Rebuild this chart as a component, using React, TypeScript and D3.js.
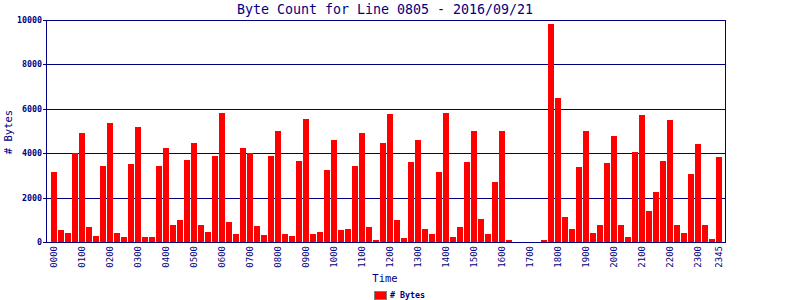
import React from "react";
import * as d3 from "d3";

const times: string[] = [
  "0000","0015","0030","0045","0100","0115","0130","0145",
  "0200","0215","0230","0245","0300","0315","0330","0345",
  "0400","0415","0430","0445","0500","0515","0530","0545",
  "0600","0615","0630","0645","0700","0715","0730","0745",
  "0800","0815","0830","0845","0900","0915","0930","0945",
  "1000","1015","1030","1045","1100","1115","1130","1145",
  "1200","1215","1230","1245","1300","1315","1330","1345",
  "1400","1415","1430","1445","1500","1515","1530","1545",
  "1600","1615","1630","1645","1700","1715","1730","1745",
  "1800","1815","1830","1845","1900","1915","1930","1945",
  "2000","2015","2030","2045","2100","2115","2130","2145",
  "2200","2215","2230","2245","2300","2315","2330","2345",
];

const bytes: number[] = [
  3150, 540, 410, 4000, 4910, 680, 270, 3420,
  5360, 410, 230, 3510, 5180, 230, 230, 3420,
  4230, 770, 990, 3690, 4460, 770, 450, 3870,
  5820, 900, 360, 4230, 3990, 720, 320, 3870,
  5000, 360, 270, 3650, 5540, 360, 450, 3240,
  4600, 540, 590, 3420, 4910, 680, 90, 4460,
  5770, 990, 180, 3600, 4600, 590, 360, 3150,
  5820, 230, 680, 3600, 5000, 1040, 360, 2700,
  5000, 90, 0, 0, 0, 0, 90, 9820,
  6490, 1130, 590, 3380, 5000, 410, 770, 3560,
  4780, 770, 230, 4050, 5720, 1400, 2250, 3650,
  5500, 770, 410, 3060, 4410, 770, 140, 3830,
];

const xTickLabels: string[] = [
  "0000","0100","0200","0300","0400","0500","0600","0700","0800","0900",
  "1000","1100","1200","1300","1400","1500","1600","1700","1800","1900",
  "2000","2100","2200","2300","2345",
];

const yTicks: number[] = [0, 2000, 4000, 6000, 8000, 10000];

const NAVY = "#000080";
const MONO = "'DejaVu Sans Mono', 'Liberation Mono', monospace";

export default function App() {
  const W = 800, H = 300;
  const left = 46, right = 725, top = 20, bottom = 242;

  const x = d3.scaleBand<string>()
    .domain(times)
    .range([50.5, 722.5])
    .paddingInner(1 / 7)
    .paddingOuter(1 / 14);
  const y = d3.scaleLinear().domain([0, 10000]).range([bottom, top]);

  return (
    <svg
      width={W}
      height={H}
      style={{ position: "absolute", left: 0, top: 0, background: "#fff" }}
      shapeRendering="crispEdges"
    >
      <rect x={0} y={0} width={W} height={H} fill="#fff" />
      <text x={385} y={14} textAnchor="middle" fill={NAVY} fontFamily={MONO} fontSize={13.3}>
        Byte Count for Line 0805 - 2016/09/21
      </text>
      {/* grid lines */}
      {yTicks.map((t) => (
        <g key={t}>
          <line x1={left} x2={right} y1={Math.round(y(t)) + 0.5} y2={Math.round(y(t)) + 0.5} stroke={NAVY} strokeWidth={1} />
          <line x1={left - 3} x2={left} y1={Math.round(y(t)) + 0.5} y2={Math.round(y(t)) + 0.5} stroke={NAVY} strokeWidth={1} />
          <text x={42} y={Math.round(y(t)) + 3} textAnchor="end" fill={NAVY} fontFamily={MONO} fontSize={8.3} fontWeight="bold">
            {t}
          </text>
        </g>
      ))}
      {/* bars */}
      {times.map((t, i) => (
        <rect
          key={t}
          x={x(t)}
          y={y(bytes[i])}
          width={x.bandwidth()}
          height={bottom - y(bytes[i])}
          fill="#ff0000"
        />
      ))}
      {/* frame */}
      <rect x={left + 0.5} y={top + 0.5} width={right - left} height={bottom - top} fill="none" stroke={NAVY} strokeWidth={1} />
      {/* x tick labels */}
      {xTickLabels.map((t) => {
        const cx = (x(t) as number) + x.bandwidth() / 2;
        return (
          <text
            key={t}
            transform={`translate(${cx + 3},246) rotate(-90)`}
            textAnchor="end"
            fill={NAVY}
            fontFamily={MONO}
            fontSize={9}
          >
            {t}
          </text>
        );
      })}
      <text x={385} y={282} textAnchor="middle" fill={NAVY} fontFamily={MONO} fontSize={10.5}>
        Time
      </text>
      <text transform="translate(12,132) rotate(-90)" textAnchor="middle" fill={NAVY} fontFamily={MONO} fontSize={10.5}>
        # Bytes
      </text>
      {/* legend */}
      <rect x={374.5} y={291.5} width={12} height={8} fill="#ff0000" stroke="#808080" strokeWidth={1} />
      <text x={390} y={298} fill={NAVY} fontFamily={MONO} fontSize={8.3} fontWeight="bold">
        # Bytes
      </text>
    </svg>
  );
}
